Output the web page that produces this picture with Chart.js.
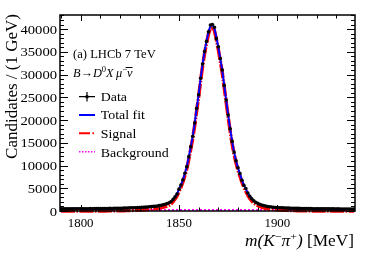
<!DOCTYPE html>
<html>
<head>
<meta charset="utf-8">
<script src="https://cdn.jsdelivr.net/npm/chart.js@4.4.1/dist/chart.umd.min.js"></script>
<style>
  body { margin: 0; background: #fff; }
  canvas { display: block; }
</style>
</head>
<body>
<canvas id="myChart" width="374" height="253"></canvas>
<script>
// bin centres, MeV
let masses = [
  1790,1791,1792,1793,1794,1795,1796,1797,1798,1799,
  1800,1801,1802,1803,1804,1805,1806,1807,1808,1809,
  1810,1811,1812,1813,1814,1815,1816,1817,1818,1819,
  1820,1821,1822,1823,1824,1825,1826,1827,1828,1829,
  1830,1831,1832,1833,1834,1835,1836,1837,1838,1839,
  1840,1841,1842,1843,1844,1845,1846,1847,1848,1849,
  1850,1851,1852,1853,1854,1855,1856,1857,1858,1859,
  1860,1861,1862,1863,1864,1865,1866,1867,1868,1869,
  1870,1871,1872,1873,1874,1875,1876,1877,1878,1879,
  1880,1881,1882,1883,1884,1885,1886,1887,1888,1889,
  1890,1891,1892,1893,1894,1895,1896,1897,1898,1899,
  1900,1901,1902,1903,1904,1905,1906,1907,1908,1909,
  1910,1911,1912,1913,1914,1915,1916,1917,1918,1919,
  1920,1921,1922,1923,1924,1925,1926,1927,1928,1929,
  1930,1931,1932,1933,1934,1935,1936,1937,1938,1939
];

let dataCounts = [
  470,460,480,470,490,480,470,490,500,480,
  500,490,510,500,510,520,500,520,530,520,
  540,530,550,540,560,570,560,580,590,600,
  610,620,640,650,660,680,700,710,730,750,
  770,800,820,850,880,920,960,1010,1060,1110,
  1180,1260,1360,1480,1630,1820,2080,2550,3100,3750,
  4800,5700,6850,8300,9750,11950,14150,16400,19350,22600,
  25550,29200,32300,35050,37300,39400,40900,41000,40400,37900,
  36100,33500,31000,27600,24400,21100,18100,15300,12950,11050,
  9500,8250,6750,5650,4950,3950,3250,2700,2250,1920,
  1680,1480,1320,1190,1090,1000,930,870,820,780,
  750,720,700,680,660,640,630,610,600,590,
  580,570,560,550,540,530,520,520,510,500,
  500,490,490,480,480,470,470,460,470,460,
  450,460,450,440,450,440,440,430,440,430
];

let fitTotal = [
  455,458,461,464,467,470,473,476,479,482,
  485,488,491,495,499,503,507,511,516,521,
  526,531,537,543,549,556,563,571,579,588,
  598,609,621,634,648,663,679,697,716,737,
  760,785,813,843,876,913,954,1000,1051,1108,
  1175,1255,1355,1475,1625,1815,2075,2550,3100,3780,
  4750,5720,6850,8280,9800,11900,14150,16450,19350,22550,
  25600,29150,32300,35100,37350,39400,40700,40900,40200,38200,
  36000,33500,30900,27650,24400,21150,18100,15350,13000,11050,
  9450,8150,6800,5700,4850,3950,3250,2700,2250,1920,
  1680,1480,1320,1190,1090,1005,935,875,825,785,
  750,720,695,672,652,634,618,604,591,579,
  568,558,549,540,532,525,518,511,505,499,
  493,488,483,478,474,470,466,462,459,456,
  453,450,447,445,443,441,439,437,435,433
];

let fitSignal = [
  0,0,0,0,0,0,0,0,0,0,
  0,0,0,0,0,5,5,10,10,15,
  15,20,20,25,30,35,40,45,50,55,
  60,70,80,90,100,115,130,150,170,190,
  215,240,270,300,335,375,420,470,525,590,
  660,740,840,960,1110,1300,1560,2070,2620,3300,
  4270,5240,6370,7800,9320,11420,13670,15970,18870,22070,
  25120,28670,31820,34620,36870,38920,40220,40420,39720,37720,
  35520,33020,30420,27170,23920,20670,17620,14870,12520,10570,
  8970,7670,6320,5220,4370,3470,2770,2220,1770,1440,
  1200,1000,850,720,620,540,470,410,360,320,
  280,250,220,190,170,150,130,115,100,85,
  75,65,55,45,40,35,30,25,20,20,
  15,15,10,10,5,5,5,0,0,0,
  0,0,0,0,0,0,0,0,0,0
];

let bkgMasses = [1789.5, 1820, 1850, 1880, 1910, 1939.5];
let bkgValues = [245, 238, 231, 224, 217, 210];

let xTicks = [1800, 1850, 1900];
let yTicks = [0, 5000, 10000, 15000, 20000, 25000, 30000, 35000, 40000];
let xRange = [1789.5, 1939.5];
let yRange = [0, 43100];

let serif = '"Liberation Serif", "Times New Roman", serif';

function pts(xs, ys) {
    return xs.map(function (x, i) { return { x: x, y: ys[i] }; });
}

// text with a little horizontal stretch, like the original
function txt(ctx, s, x, y, size, align, sx, style) {
    ctx.save();
    ctx.font = (style || '') + ' ' + size + 'px ' + serif;
    ctx.textAlign = align;
    ctx.textBaseline = 'alphabetic';
    ctx.fillStyle = '#000';
    ctx.translate(x, y);
    ctx.scale(sx, 1);
    ctx.fillText(s, 0, 0);
    ctx.restore();
}

// runs of [text, size, style, rise]; returns width
function rich(ctx, parts, x, y, sx, measureOnly) {
    let cx = x;
    parts.forEach(function (p) {
        ctx.font = (p[2] || '') + ' ' + p[1] + 'px ' + serif;
        let w = ctx.measureText(p[0]).width * sx;
        if (!measureOnly) txt(ctx, p[0], cx, y - (p[3] || 0), p[1], 'left', sx, p[2]);
        cx += w;
    });
    return cx - x;
}

let framePlugin = {
    id: 'frame',
    afterDraw: function (chart) {
        let ctx = chart.ctx;
        let a = chart.chartArea;
        let xs = chart.scales.x, ys = chart.scales.y;
        ctx.save();
        ctx.strokeStyle = '#000';
        ctx.lineWidth = 1.5;
        ctx.strokeRect(a.left, a.top, a.right - a.left, a.bottom - a.top);

        // inner ticks on all four sides
        ctx.lineWidth = 1;
        ctx.beginPath();
        for (let v = 1790; v <= 1939; v += 10) {
            let px = Math.round(xs.getPixelForValue(v)) + 0.5;
            let len = xTicks.indexOf(v) >= 0 ? 6 : 3.5;
            ctx.moveTo(px, a.bottom); ctx.lineTo(px, a.bottom - len);
            ctx.moveTo(px, a.top); ctx.lineTo(px, a.top + len);
        }
        for (let v = 0; v <= yRange[1]; v += 1000) {
            let py = Math.round(ys.getPixelForValue(v)) + 0.5;
            let len = yTicks.indexOf(v) >= 0 ? 8 : 4;
            ctx.moveTo(a.left, py); ctx.lineTo(a.left + len, py);
            ctx.moveTo(a.right, py); ctx.lineTo(a.right - len, py);
        }
        ctx.stroke();

        // tick labels
        yTicks.forEach(function (v) {
            txt(ctx, String(v), a.left - 3, ys.getPixelForValue(v) + 4.5, 12.5, 'right', 1.17);
        });
        xTicks.forEach(function (v) {
            txt(ctx, String(v), xs.getPixelForValue(v), a.bottom + 16, 11.5, 'center', 1.12);
        });

        // axis titles
        ctx.save();
        ctx.translate(17, a.top - 1);
        ctx.rotate(-Math.PI / 2);
        txt(ctx, 'Candidates / (1 GeV)', 0, 0, 17, 'right', 1);
        ctx.restore();

        let xTitle = [
            ['m(K', 16, 'italic'], ['\u2212', 11, '', 6.5], ['\u03C0', 16, 'italic'],
            ['+', 11, '', 6.5], [')', 16, 'italic'], [' [MeV]', 16, '']
        ];
        let w = rich(ctx, xTitle, 0, 0, 1.08, true);
        rich(ctx, xTitle, a.right - 1 - w, 246, 1.08);

        // label
        txt(ctx, '(a) LHCb 7 TeV', 73, 57.5, 13, 'left', 0.97);
        let decay = [
            ['B', 13, 'italic'], ['\u2192', 13, ''], ['D', 13, 'italic'], ['0', 9, '', 5],
            ['X', 13, 'italic'], ['\u2009\u03BC', 13, 'italic'], ['\u2212', 9, '', 5], ['\u03BD', 13, 'italic']
        ];
        let dw = rich(ctx, decay, 73, 76.5, 0.95);
        // bar over nu
        ctx.beginPath();
        ctx.lineWidth = 1;
        ctx.moveTo(73 + dw - 7, 67.5); ctx.lineTo(73 + dw, 67.5);
        ctx.stroke();

        // legend
        let lx0 = 79, lx1 = 95, tx = 100.7;
        ctx.strokeStyle = '#000';
        ctx.lineWidth = 1.2;
        ctx.beginPath();
        ctx.moveTo(lx0, 96.7); ctx.lineTo(lx1, 96.7);
        ctx.moveTo(87, 92); ctx.lineTo(87, 101.5);
        ctx.stroke();
        ctx.fillStyle = '#000';
        ctx.beginPath(); ctx.arc(87, 96.7, 1.8, 0, Math.PI * 2); ctx.fill();

        ctx.strokeStyle = '#0000ff'; ctx.lineWidth = 2;
        ctx.beginPath(); ctx.moveTo(lx0, 115); ctx.lineTo(lx1, 115); ctx.stroke();

        ctx.strokeStyle = '#ff0000'; ctx.lineWidth = 2;
        ctx.setLineDash([11, 2.5, 1.5, 2.5]);
        ctx.beginPath(); ctx.moveTo(lx0, 133.3); ctx.lineTo(lx1, 133.3); ctx.stroke();

        ctx.strokeStyle = '#ff00ff'; ctx.lineWidth = 1.5;
        ctx.setLineDash([1.5, 1.5]);
        ctx.beginPath(); ctx.moveTo(lx0, 151.7); ctx.lineTo(lx1, 151.7); ctx.stroke();
        ctx.setLineDash([]);

        txt(ctx, 'Data', tx, 100.7, 12, 'left', 1.16);
        txt(ctx, 'Total fit', tx, 119.3, 12, 'left', 1.16);
        txt(ctx, 'Signal', tx, 137.8, 12, 'left', 1.16);
        txt(ctx, 'Background', tx, 156.5, 12, 'left', 1.16);
        ctx.restore();
    }
};

let ctx = document.getElementById('myChart').getContext('2d');
let chart = new Chart(ctx, {
    type: 'line',
    data: {
        datasets: [{
            label: 'Data',
            data: pts(masses, dataCounts),
            showLine: false,
            pointRadius: 1.8,
            pointBackgroundColor: '#000',
            pointBorderWidth: 0
        }, {
            label: 'Total fit',
            data: pts(masses, fitTotal),
            borderColor: '#0000ff',
            borderWidth: 2,
            pointRadius: 0,
            tension: 0
        }, {
            label: 'Signal',
            data: pts(masses, fitSignal),
            borderColor: '#ff0000',
            borderWidth: 3.5,
            borderDash: [14, 1.5, 1.5, 1.5],
            pointRadius: 0,
            tension: 0,
            clip: 3
        }, {
            label: 'Background',
            data: pts(bkgMasses, bkgValues),
            borderColor: '#ff00ff',
            borderWidth: 2,
            borderDash: [2, 2],
            pointRadius: 0,
            tension: 0
        }]
    },
    options: {
        responsive: false,
        devicePixelRatio: 1,
        animation: false,
        layout: { padding: { left: 60, top: 15, right: 19, bottom: 42 } },
        plugins: { legend: { display: false }, tooltip: { enabled: false } },
        scales: {
            x: { type: 'linear', min: xRange[0], max: xRange[1], display: false },
            y: { type: 'linear', min: yRange[0], max: yRange[1], display: false }
        }
    },
    plugins: [framePlugin]
});
</script>
</body>
</html>
